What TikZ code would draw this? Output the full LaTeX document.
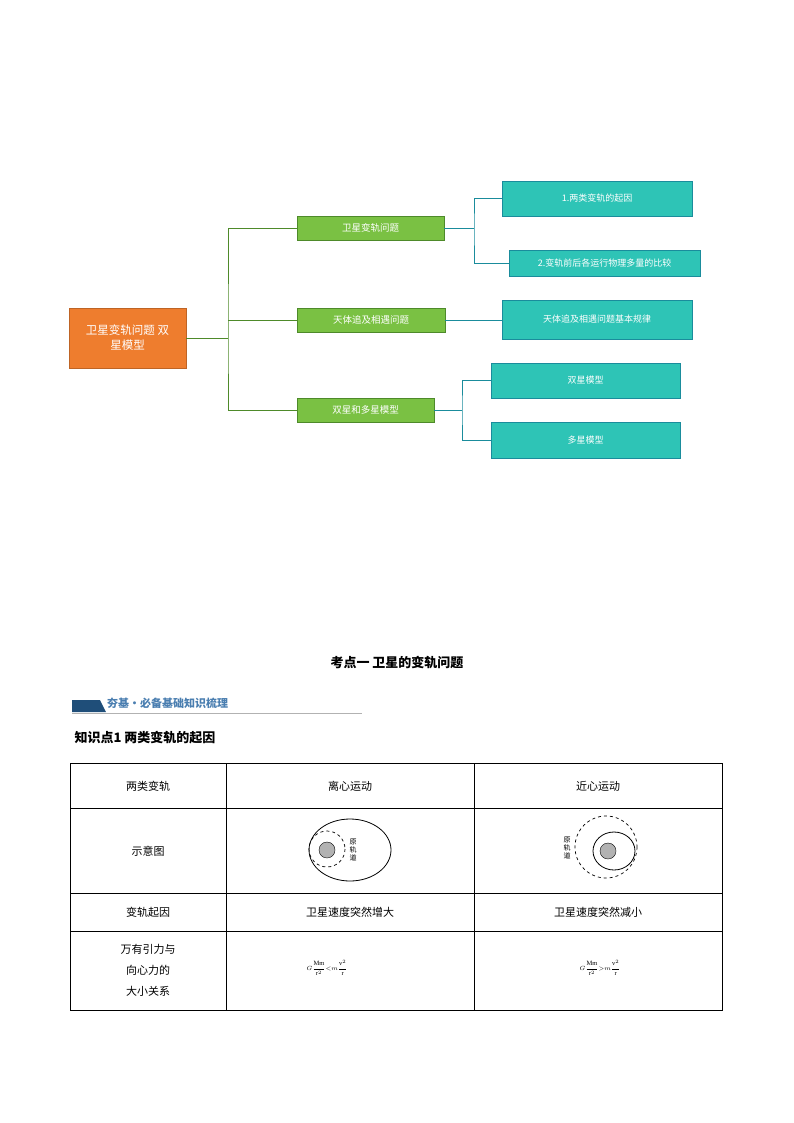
\documentclass[tikz,border=0pt]{standalone}
\usepackage{fontspec}
\newfontfamily\cjk{Noto Sans CJK SC}
\setmainfont{Liberation Serif}
\definecolor{gfill}{HTML}{7AC143}
\definecolor{gline}{HTML}{4E8A2A}
\definecolor{tfill}{HTML}{2EC4B6}
\definecolor{tline}{HTML}{1A8C9C}
\definecolor{ofill}{HTML}{EE7D2E}
\definecolor{bann}{HTML}{1F4E79}
\definecolor{btext}{HTML}{4A7EB0}
\begin{document}
\begin{tikzpicture}[x=1pt,y=-1pt,font=\cjk,
  org/.style={draw=ofill!80!black,fill=ofill,text=white,minimum width=117pt,minimum height=60pt,align=center,font=\cjk\fontsize{11.5}{15}\selectfont,inner sep=2pt},
  grn/.style={draw=gline,fill=gfill,text=white,minimum height=24pt,font=\cjk\fontsize{9.5}{11}\selectfont,inner sep=0pt},
  tealb/.style={draw=tline,fill=tfill,text=white,minimum height=35pt,font=\cjk\fontsize{9}{10}\selectfont,inner sep=0pt},
  gl/.style={draw=gline},
  tl/.style={draw=tline},
  cell/.style={font=\cjk\fontsize{11}{15}\selectfont,align=center}]
\useasboundingbox (0,0) rectangle (794,1123);
% mind map
\node[org] (root) at (127.5,338) {卫星变轨问题 双\\星模型};
\node[grn,minimum width=147pt] (g1) at (370.5,228) {卫星变轨问题};
\node[grn,minimum width=148pt] (g2) at (371,320) {天体追及相遇问题};
\node[grn,minimum width=137pt] (g3) at (365.5,410) {双星和多星模型};
\node[tealb,minimum width=190pt] (t1) at (597,198.5) {1.两类变轨的起因};
\node[tealb,minimum width=191pt,minimum height=26pt] (t2) at (604.5,263) {2.变轨前后各运行物理多量的比较};
\node[tealb,minimum width=190pt,minimum height=39pt] (t3) at (597,319.5) {天体追及相遇问题基本规律};
\node[tealb,minimum width=189pt] (t4) at (585.5,380.5) {双星模型};
\node[tealb,minimum width=189pt,minimum height=36pt] (t5) at (585.5,440) {多星模型};
\coordinate (j0) at (228,338);
\coordinate (j2) at (228,320);
\draw[gl] (root.east) -- (j0);
\draw[gl] (g1.west) -| (j0) |- (g3.west);
\draw[gl] (j2) -- (g2.west);
\coordinate (j1) at (474,228);
\draw[tl] (g1.east) -- (j1);
\draw[tl] (t1.west) -| (j1) |- (t2.west);
\draw[tl] (g2.east) -- (g2.east -| t3.west);
\coordinate (j3) at (462,410);
\draw[tl] (g3.east) -- (j3);
\draw[tl] (t4.west) -| (j3) |- (t5.west);
% title
\node[font=\cjk\bfseries\fontsize{13}{15}\selectfont] (title) at (397,663) {考点一\ 卫星的变轨问题};
\fill[bann] (72,700) -- (100,700) -- (106,712) -- (72,712) -- cycle;
\draw[gray!60] (72,713.5) -- (362,713.5);
\node[anchor=west,text=btext,font=\cjk\bfseries\fontsize{11}{13}\selectfont,inner sep=0pt] (ban) at (107,703) {夯基·必备基础知识梳理};
\node[anchor=west,font=\cjk\bfseries\fontsize{13}{15}\selectfont] (kp) at (71,738) {知识点1\ 两类变轨的起因};
% table
\draw[line width=0.7pt] (70,763) rectangle (722,1010);
\foreach \y in {808,893,931} \draw[line width=0.7pt] (70,\y) -- (722,\y);
\foreach \x in {226,474} \draw[line width=0.7pt] (\x,763) -- (\x,1010);
\node[cell] (c11) at (148,786) {两类变轨};
\node[cell] (c12) at (350,786) {离心运动};
\node[cell] (c13) at (598,786) {近心运动};
\node[cell] (c21) at (148,851) {示意图};
\node[cell] (c31) at (148,912) {变轨起因};
\node[cell] (c32) at (350,912) {卫星速度突然增大};
\node[cell] (c33) at (598,912) {卫星速度突然减小};
\node[cell,font=\cjk\fontsize{11}{21}\selectfont] (c41) at (148,970) {万有引力与\\向心力的\\大小关系};
% diagrams
\draw[line width=0.8pt] (350,850) ellipse [x radius=41,y radius=31];
\draw[dashed,line width=0.7pt] (327,849) circle [radius=18];
\draw[fill=gray!60] (327,850) circle [radius=8];
\node[font=\cjk\fontsize{7}{8}\selectfont,align=center] (l1) at (353,850) {原\\轨\\道};
\draw[dashed,line width=0.7pt] (606,847) circle [radius=31];
\draw[line width=0.8pt] (614,851) ellipse [x radius=21,y radius=19];
\draw[fill=gray!60] (608,851) circle [radius=8];
\node[font=\cjk\fontsize{7}{8}\selectfont,align=center] (l2) at (567,848) {原\\轨\\道};
\node[font=\fontsize{6.5}{8}\selectfont,inner sep=1pt] (f1) at (327,968) {$\displaystyle G\frac{\mathrm{Mm}}{\mathrm{r}^2}{<}m\frac{\mathrm{v}^2}{\mathrm{r}}$};
\node[font=\fontsize{6.5}{8}\selectfont,inner sep=1pt] (f2) at (600,968) {$\displaystyle G\frac{\mathrm{Mm}}{\mathrm{r}^2}{>}m\frac{\mathrm{v}^2}{\mathrm{r}}$};
\end{tikzpicture}
\end{document}
